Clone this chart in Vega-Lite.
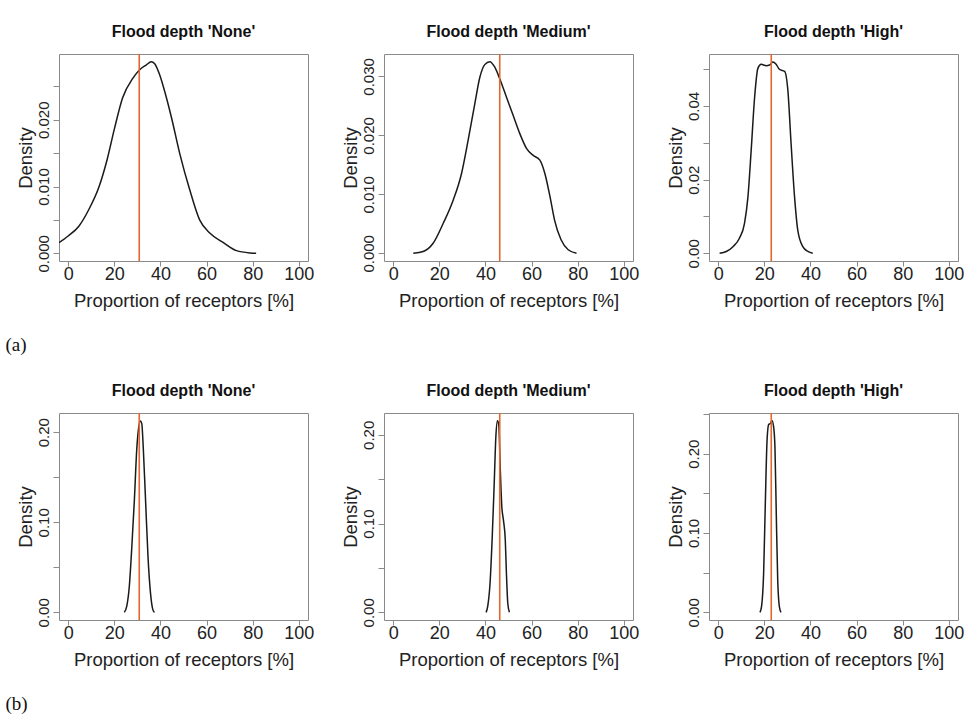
{
  "$schema": "https://vega.github.io/schema/vega-lite/v6.json",
  "background": "white",
  "padding": {"left": 5, "top": 23, "right": 5, "bottom": 5},
  "config": {
    "font": "Liberation Sans",
    "view": {"stroke": "#8a8a8a", "strokeWidth": 1},
    "axis": {
      "grid": false, "domain": false, "tickColor": "#8a8a8a", "tickSize": 5, "tickWidth": 1,
      "labelFont": "Liberation Sans", "labelColor": "#222", "titleColor": "#222",
      "titleFont": "Liberation Sans", "titleFontWeight": "normal",
      "labelOverlap": false, "labelFlush": false, "labelBound": false
    },
    "axisX": {"labelFontSize": 18, "labelPadding": -1, "titleFontSize": 18.5, "titlePadding": 8},
    "axisY": {"tickSize": 6, "labelFontSize": 15, "labelAngle": 270, "labelAlign": "center", "labelBaseline": "bottom", "labelPadding": 2, "titleFontSize": 18.5, "titlePadding": 1},
    "title": {"font": "Liberation Sans", "fontSize": 16, "fontWeight": "bold", "color": "#111", "offset": 13, "frame": "group", "anchor": "middle"},
    "line": {"color": "#1a1a1a", "strokeWidth": 1.5, "interpolate": "monotone"}
  },
  "datasets": {
    "dens": [
      {"set":"a","depth":"None","x":-4,"d":0.0016},{"set":"a","depth":"None","x":0,"d":0.0026},{"set":"a","depth":"None","x":4.7,"d":0.0041},{"set":"a","depth":"None","x":9,"d":0.0066},{"set":"a","depth":"None","x":13.4,"d":0.0100},{"set":"a","depth":"None","x":17,"d":0.0142},{"set":"a","depth":"None","x":20,"d":0.0186},{"set":"a","depth":"None","x":23.6,"d":0.0233},{"set":"a","depth":"None","x":28,"d":0.0262},{"set":"a","depth":"None","x":31,"d":0.0275},{"set":"a","depth":"None","x":33.8,"d":0.0282},{"set":"a","depth":"None","x":36,"d":0.0287},{"set":"a","depth":"None","x":37.5,"d":0.0284},{"set":"a","depth":"None","x":39.7,"d":0.0267},{"set":"a","depth":"None","x":41.8,"d":0.0243},{"set":"a","depth":"None","x":44.8,"d":0.0203},{"set":"a","depth":"None","x":48.4,"d":0.0149},{"set":"a","depth":"None","x":52.8,"d":0.0094},{"set":"a","depth":"None","x":57,"d":0.005},{"set":"a","depth":"None","x":61.5,"d":0.003},{"set":"a","depth":"None","x":67.3,"d":0.0016},{"set":"a","depth":"None","x":73,"d":0.0004},{"set":"a","depth":"None","x":79,"d":0.00005},{"set":"a","depth":"None","x":81.5,"d":0},
      {"set":"a","depth":"Medium","x":8.7,"d":0},{"set":"a","depth":"Medium","x":13,"d":0.0003},{"set":"a","depth":"Medium","x":17.3,"d":0.0017},{"set":"a","depth":"Medium","x":21.7,"d":0.0051},{"set":"a","depth":"Medium","x":26,"d":0.009},{"set":"a","depth":"Medium","x":29.6,"d":0.0135},{"set":"a","depth":"Medium","x":32.5,"d":0.0192},{"set":"a","depth":"Medium","x":35.4,"d":0.0254},{"set":"a","depth":"Medium","x":37.6,"d":0.0299},{"set":"a","depth":"Medium","x":39.7,"d":0.032},{"set":"a","depth":"Medium","x":41.9,"d":0.0325},{"set":"a","depth":"Medium","x":44,"d":0.0316},{"set":"a","depth":"Medium","x":46.2,"d":0.0296},{"set":"a","depth":"Medium","x":49.1,"d":0.0265},{"set":"a","depth":"Medium","x":52,"d":0.0234},{"set":"a","depth":"Medium","x":54.9,"d":0.0203},{"set":"a","depth":"Medium","x":57.8,"d":0.0178},{"set":"a","depth":"Medium","x":60.7,"d":0.0166},{"set":"a","depth":"Medium","x":63.6,"d":0.0158},{"set":"a","depth":"Medium","x":65.8,"d":0.0135},{"set":"a","depth":"Medium","x":68,"d":0.0096},{"set":"a","depth":"Medium","x":70,"d":0.0056},{"set":"a","depth":"Medium","x":72.8,"d":0.0023},{"set":"a","depth":"Medium","x":75.9,"d":0.0006},{"set":"a","depth":"Medium","x":79.5,"d":0},
      {"set":"a","depth":"High","x":0.6,"d":0},{"set":"a","depth":"High","x":3.5,"d":0.0005},{"set":"a","depth":"High","x":6.4,"d":0.0018},{"set":"a","depth":"High","x":9.2,"d":0.0041},{"set":"a","depth":"High","x":11.4,"d":0.0081},{"set":"a","depth":"High","x":12.9,"d":0.0154},{"set":"a","depth":"High","x":14.3,"d":0.028},{"set":"a","depth":"High","x":15.8,"d":0.0425},{"set":"a","depth":"High","x":17.2,"d":0.0502},{"set":"a","depth":"High","x":18.6,"d":0.0513},{"set":"a","depth":"High","x":20.8,"d":0.0509},{"set":"a","depth":"High","x":22.3,"d":0.0511},{"set":"a","depth":"High","x":23.7,"d":0.0519},{"set":"a","depth":"High","x":25.1,"d":0.0513},{"set":"a","depth":"High","x":26.6,"d":0.0499},{"set":"a","depth":"High","x":28.8,"d":0.0494},{"set":"a","depth":"High","x":30.2,"d":0.0443},{"set":"a","depth":"High","x":31.6,"d":0.0298},{"set":"a","depth":"High","x":33.1,"d":0.0154},{"set":"a","depth":"High","x":34.5,"d":0.0063},{"set":"a","depth":"High","x":36.7,"d":0.0018},{"set":"a","depth":"High","x":38.9,"d":0.0005},{"set":"a","depth":"High","x":41,"d":0},
      {"set":"b","depth":"None","x":24.3,"d":0},{"set":"b","depth":"None","x":25.4,"d":0.007},{"set":"b","depth":"None","x":26.5,"d":0.029},{"set":"b","depth":"None","x":27.5,"d":0.069},{"set":"b","depth":"None","x":28.7,"d":0.125},{"set":"b","depth":"None","x":29.7,"d":0.18},{"set":"b","depth":"None","x":30.6,"d":0.206},{"set":"b","depth":"None","x":31.3,"d":0.2125},{"set":"b","depth":"None","x":31.9,"d":0.2096},{"set":"b","depth":"None","x":32.6,"d":0.18},{"set":"b","depth":"None","x":33.6,"d":0.121},{"set":"b","depth":"None","x":34.6,"d":0.062},{"set":"b","depth":"None","x":35.7,"d":0.021},{"set":"b","depth":"None","x":36.7,"d":0.003},{"set":"b","depth":"None","x":37.4,"d":0},
      {"set":"b","depth":"Medium","x":40.3,"d":0},{"set":"b","depth":"Medium","x":41,"d":0.007},{"set":"b","depth":"Medium","x":42,"d":0.033},{"set":"b","depth":"Medium","x":42.9,"d":0.082},{"set":"b","depth":"Medium","x":43.8,"d":0.145},{"set":"b","depth":"Medium","x":44.5,"d":0.197},{"set":"b","depth":"Medium","x":45.2,"d":0.216},{"set":"b","depth":"Medium","x":45.8,"d":0.211},{"set":"b","depth":"Medium","x":46.4,"d":0.164},{"set":"b","depth":"Medium","x":47.1,"d":0.119},{"set":"b","depth":"Medium","x":47.8,"d":0.104},{"set":"b","depth":"Medium","x":48.6,"d":0.082},{"set":"b","depth":"Medium","x":49.1,"d":0.044},{"set":"b","depth":"Medium","x":49.7,"d":0.01},{"set":"b","depth":"Medium","x":50.4,"d":0},
      {"set":"b","depth":"High","x":18.1,"d":0},{"set":"b","depth":"High","x":18.8,"d":0.0076},{"set":"b","depth":"High","x":19.7,"d":0.05},{"set":"b","depth":"High","x":20.4,"d":0.134},{"set":"b","depth":"High","x":21.2,"d":0.218},{"set":"b","depth":"High","x":21.9,"d":0.237},{"set":"b","depth":"High","x":22.6,"d":0.238},{"set":"b","depth":"High","x":23.3,"d":0.242},{"set":"b","depth":"High","x":24,"d":0.2345},{"set":"b","depth":"High","x":24.6,"d":0.209},{"set":"b","depth":"High","x":25.2,"d":0.121},{"set":"b","depth":"High","x":25.8,"d":0.041},{"set":"b","depth":"High","x":26.5,"d":0.0076},{"set":"b","depth":"High","x":27.2,"d":0}
    ],
    "means": [
      {"depth":"None","mean":30.8},{"depth":"Medium","mean":46.2},{"depth":"High","mean":23.0}
    ]
  },
  "vconcat": [
    {
      "bounds": "flush",
      "spacing": 76,
      "title": {"text": "(a)", "orient": "bottom", "anchor": "start", "frame": "bounds", "font": "Liberation Serif", "fontSize": 19, "fontWeight": "normal", "color": "#111", "offset": 26, "dx": -10},
      "hconcat": [
        {
          "width": 249, "height": 207, "title": "Flood depth 'None'",
          "layer": [
            {"mark": {"type": "rule", "color": "#eeeeee", "strokeWidth": 0.8}, "encoding": {"y": {"datum": 0}}},
            {"data": {"name": "dens"}, "transform": [{"filter": "datum.set == 'a' && datum.depth == 'None'"}], "mark": {"type": "line", "clip": true},
             "encoding": {
               "x": {"field": "x", "type": "quantitative", "scale": {"domain": [-4, 104], "nice": false, "zero": false}, "axis": {"values": [0,20,40,60,80,100], "title": "Proportion of receptors [%]"}},
               "y": {"field": "d", "type": "quantitative", "scale": {"domain": [-0.00115, 0.02985], "nice": false, "zero": false}, "axis": {"values": [0,0.005,0.01,0.015,0.02,0.025], "labelExpr": "round(datum.value*1000) % 10 == 0 ? format(datum.value, '.3f') : ''", "title": "Density"}}
             }},
            {"data": {"name": "means"}, "transform": [{"filter": "datum.depth == 'None'"}], "mark": {"type": "rule", "color": "#e2672e", "strokeWidth": 1.6},
             "encoding": {"x": {"field": "mean", "type": "quantitative"}}}
          ]
        },
        {
          "width": 249, "height": 207, "title": "Flood depth 'Medium'",
          "layer": [
            {"mark": {"type": "rule", "color": "#eeeeee", "strokeWidth": 0.8}, "encoding": {"y": {"datum": 0}}},
            {"data": {"name": "dens"}, "transform": [{"filter": "datum.set == 'a' && datum.depth == 'Medium'"}], "mark": {"type": "line", "clip": true},
             "encoding": {
               "x": {"field": "x", "type": "quantitative", "scale": {"domain": [-4, 104], "nice": false, "zero": false}, "axis": {"values": [0,20,40,60,80,100], "title": "Proportion of receptors [%]"}},
               "y": {"field": "d", "type": "quantitative", "scale": {"domain": [-0.0013, 0.0338], "nice": false, "zero": false}, "axis": {"values": [0,0.005,0.01,0.015,0.02,0.025,0.03], "labelExpr": "round(datum.value*1000) % 10 == 0 ? format(datum.value, '.3f') : ''", "title": "Density"}}
             }},
            {"data": {"name": "means"}, "transform": [{"filter": "datum.depth == 'Medium'"}], "mark": {"type": "rule", "color": "#e2672e", "strokeWidth": 1.6},
             "encoding": {"x": {"field": "mean", "type": "quantitative"}}}
          ]
        },
        {
          "width": 249, "height": 207, "title": "Flood depth 'High'",
          "layer": [
            {"mark": {"type": "rule", "color": "#eeeeee", "strokeWidth": 0.8}, "encoding": {"y": {"datum": 0}}},
            {"data": {"name": "dens"}, "transform": [{"filter": "datum.set == 'a' && datum.depth == 'High'"}], "mark": {"type": "line", "clip": true},
             "encoding": {
               "x": {"field": "x", "type": "quantitative", "scale": {"domain": [-4, 104], "nice": false, "zero": false}, "axis": {"values": [0,20,40,60,80,100], "title": "Proportion of receptors [%]"}},
               "y": {"field": "d", "type": "quantitative", "scale": {"domain": [-0.00208, 0.0541], "nice": false, "zero": false}, "axis": {"values": [0,0.01,0.02,0.03,0.04,0.05], "labelExpr": "round(datum.value*100) % 2 == 0 ? format(datum.value, '.2f') : ''", "title": "Density"}}
             }},
            {"data": {"name": "means"}, "transform": [{"filter": "datum.depth == 'High'"}], "mark": {"type": "rule", "color": "#e2672e", "strokeWidth": 1.6},
             "encoding": {"x": {"field": "mean", "type": "quantitative"}}}
          ]
        }
      ]
    },
    {
      "bounds": "flush",
      "spacing": 76,
      "title": {"text": "(b)", "orient": "bottom", "anchor": "start", "frame": "bounds", "font": "Liberation Serif", "fontSize": 19, "fontWeight": "normal", "color": "#111", "offset": 26, "dx": -10},
      "hconcat": [
        {
          "width": 249, "height": 207, "title": "Flood depth 'None'",
          "layer": [
            {"mark": {"type": "rule", "color": "#eeeeee", "strokeWidth": 0.8}, "encoding": {"y": {"datum": 0}}},
            {"data": {"name": "dens"}, "transform": [{"filter": "datum.set == 'b' && datum.depth == 'None'"}], "mark": {"type": "line", "clip": true},
             "encoding": {
               "x": {"field": "x", "type": "quantitative", "scale": {"domain": [-4, 104], "nice": false, "zero": false}, "axis": {"values": [0,20,40,60,80,100], "title": "Proportion of receptors [%]"}},
               "y": {"field": "d", "type": "quantitative", "scale": {"domain": [-0.0085, 0.2214], "nice": false, "zero": false}, "axis": {"values": [0,0.05,0.1,0.15,0.2], "labelExpr": "round(datum.value*100) % 10 == 0 ? format(datum.value, '.2f') : ''", "title": "Density"}}
             }},
            {"data": {"name": "means"}, "transform": [{"filter": "datum.depth == 'None'"}], "mark": {"type": "rule", "color": "#e2672e", "strokeWidth": 1.6},
             "encoding": {"x": {"field": "mean", "type": "quantitative"}}}
          ]
        },
        {
          "width": 249, "height": 207, "title": "Flood depth 'Medium'",
          "layer": [
            {"mark": {"type": "rule", "color": "#eeeeee", "strokeWidth": 0.8}, "encoding": {"y": {"datum": 0}}},
            {"data": {"name": "dens"}, "transform": [{"filter": "datum.set == 'b' && datum.depth == 'Medium'"}], "mark": {"type": "line", "clip": true},
             "encoding": {
               "x": {"field": "x", "type": "quantitative", "scale": {"domain": [-4, 104], "nice": false, "zero": false}, "axis": {"values": [0,20,40,60,80,100], "title": "Proportion of receptors [%]"}},
               "y": {"field": "d", "type": "quantitative", "scale": {"domain": [-0.0086, 0.2246], "nice": false, "zero": false}, "axis": {"values": [0,0.05,0.1,0.15,0.2], "labelExpr": "round(datum.value*100) % 10 == 0 ? format(datum.value, '.2f') : ''", "title": "Density"}}
             }},
            {"data": {"name": "means"}, "transform": [{"filter": "datum.depth == 'Medium'"}], "mark": {"type": "rule", "color": "#e2672e", "strokeWidth": 1.6},
             "encoding": {"x": {"field": "mean", "type": "quantitative"}}}
          ]
        },
        {
          "width": 249, "height": 207, "title": "Flood depth 'High'",
          "layer": [
            {"mark": {"type": "rule", "color": "#eeeeee", "strokeWidth": 0.8}, "encoding": {"y": {"datum": 0}}},
            {"data": {"name": "dens"}, "transform": [{"filter": "datum.set == 'b' && datum.depth == 'High'"}], "mark": {"type": "line", "clip": true},
             "encoding": {
               "x": {"field": "x", "type": "quantitative", "scale": {"domain": [-4, 104], "nice": false, "zero": false}, "axis": {"values": [0,20,40,60,80,100], "title": "Proportion of receptors [%]"}},
               "y": {"field": "d", "type": "quantitative", "scale": {"domain": [-0.0097, 0.2513], "nice": false, "zero": false}, "axis": {"values": [0,0.05,0.1,0.15,0.2,0.25], "labelExpr": "round(datum.value*100) % 10 == 0 ? format(datum.value, '.2f') : ''", "title": "Density"}}
             }},
            {"data": {"name": "means"}, "transform": [{"filter": "datum.depth == 'High'"}], "mark": {"type": "rule", "color": "#e2672e", "strokeWidth": 1.6},
             "encoding": {"x": {"field": "mean", "type": "quantitative"}}}
          ]
        }
      ]
    }
  ],
  "spacing": 27
}
